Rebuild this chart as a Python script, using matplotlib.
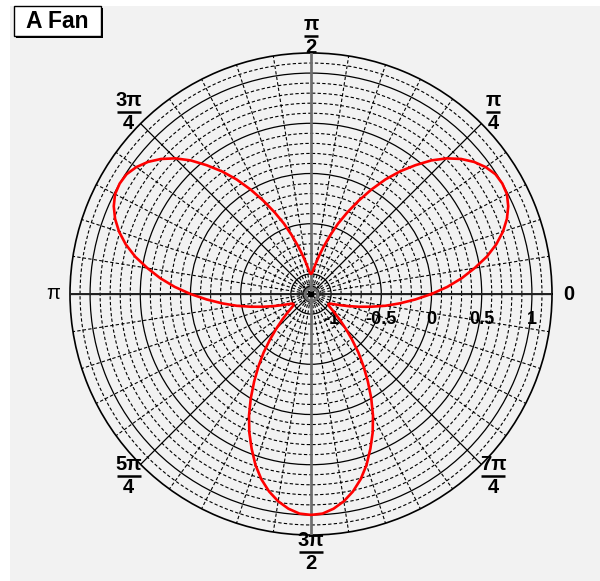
import numpy as np
import matplotlib.pyplot as plt
from matplotlib.patches import Rectangle
from matplotlib.transforms import offset_copy

plt.rcParams['font.family'] = ['Liberation Sans', 'DejaVu Sans']

# curve samples: angle (degrees) and radius
theta_deg = list(range(0, 361, 3))
radius = [
    0.0, 0.16, 0.31, 0.45, 0.59, 0.71, 0.81, 0.89, 0.95, 0.99,
    1.0, 0.99, 0.95, 0.89, 0.81, 0.71, 0.59, 0.45, 0.31, 0.16,
    0.0, -0.16, -0.31, -0.45, -0.59, -0.71, -0.81, -0.89, -0.95, -0.99,
    -1.0, -0.99, -0.95, -0.89, -0.81, -0.71, -0.59, -0.45, -0.31, -0.16,
    0.0, 0.16, 0.31, 0.45, 0.59, 0.71, 0.81, 0.89, 0.95, 0.99,
    1.0, 0.99, 0.95, 0.89, 0.81, 0.71, 0.59, 0.45, 0.31, 0.16,
    0.0, -0.16, -0.31, -0.45, -0.59, -0.71, -0.81, -0.89, -0.95, -0.99,
    -1.0, -0.99, -0.95, -0.89, -0.81, -0.71, -0.59, -0.45, -0.31, -0.16,
    0.0, 0.16, 0.31, 0.45, 0.59, 0.71, 0.81, 0.89, 0.95, 0.99,
    1.0, 0.99, 0.95, 0.89, 0.81, 0.71, 0.59, 0.45, 0.31, 0.16,
    0.0, -0.16, -0.31, -0.45, -0.59, -0.71, -0.81, -0.89, -0.95, -0.99,
    -1.0, -0.99, -0.95, -0.89, -0.81, -0.71, -0.59, -0.45, -0.31, -0.16,
    0.0,
]

# radial axis
r_min, r_max = -1.2, 1.2
r_ticks = [-1, -0.5, 0, 0.5, 1]
r_tick_labels = ['-1', '-0.5', '0', '0.5', '1']
r_minor = [-1.1, -0.9, -0.8, -0.7, -0.6, -0.4, -0.3, -0.2, -0.1,
           0.1, 0.2, 0.3, 0.4, 0.6, 0.7, 0.8, 0.9, 1.1]

# angular axis
theta_major = [0, 45, 90, 135, 180, 225, 270, 315]
theta_minor = [a for a in range(0, 360, 9) if a % 45 != 0]
label_num = ['0', 'π', 'π', '3π', 'π', '5π', '3π', '7π']
label_den = [None, '4', '2', '4', None, '4', '2', '4']

title = 'A Fan'

W, H = 600, 581
fig = plt.figure(figsize=(6, 5.81), dpi=100)
fig.patch.set_facecolor('white')

# gray canvas
fig.patches.append(Rectangle((10 / W, 0), 1 - 10 / W, 1 - 6 / H, transform=fig.transFigure,
                             facecolor='#f2f2f2', edgecolor='none', zorder=-5))

# polar frame: centre (311, 294) px, radius 241 px
cx, cy, R = 311, 294, 241
ax = fig.add_axes([(cx - R) / W, (H - cy - R) / H, 2 * R / W, 2 * R / H], projection='polar')
ax.set_facecolor('none')
ax.set_ylim(r_min, r_max)

ax.set_xticks(np.deg2rad(theta_major))
ax.set_xticks(np.deg2rad(theta_minor), minor=True)
ax.set_yticks(r_ticks)
ax.set_yticks(r_minor, minor=True)
ax.set_xticklabels([])
ax.set_yticklabels([])
ax.tick_params(which='both', length=0)
ax.grid(which='major', color='black', lw=0.9, ls='-')
ax.grid(which='minor', color='black', lw=0.8, ls=(0, (3, 2)))
ax.spines['polar'].set_linewidth(1.2)

# main axes lines
for a in (0, 180):
    ax.plot([np.deg2rad(a)] * 2, [r_min, r_max], color='#202020', lw=1.4, zorder=3)
for a in (90, 270):
    ax.plot([np.deg2rad(a)] * 2, [r_min, r_max], color='#6e6e6e', lw=1.9, zorder=3)

# the curve
ax.plot(np.deg2rad(theta_deg), radius, color='red', lw=1.9, zorder=5)

# centre marker
ax.plot([0], [r_min], marker='o', ms=9, mfc='none', mec='#707070', mew=2, zorder=6, clip_on=False)
ax.plot([0], [r_min], marker='s', ms=3.5, color='black', zorder=7, clip_on=False)

# radial labels below the 0 axis
down = offset_copy(ax.transData, fig=fig, x=0, y=-25, units='dots')
for r, s in zip(r_ticks, r_tick_labels):
    ax.text(0, r, s, transform=down, ha='center', va='center',
            fontsize=13, fontweight='bold', clip_on=False)

# angular labels
RL = 1.37
up = offset_copy(ax.transData, fig=fig, x=0, y=2, units='dots')
low = offset_copy(ax.transData, fig=fig, x=0, y=-2, units='dots')
for a, num, den in zip(theta_major, label_num, label_den):
    th = np.deg2rad(a)
    if den is None:
        ax.text(th, RL, num, ha='center', va='center', fontsize=14.5,
                fontweight='bold' if num != 'π' else 'normal', clip_on=False)
        continue
    ax.text(th, RL, num, transform=up, ha='center', va='bottom', fontsize=14.5,
            fontweight='bold', clip_on=False)
    ax.text(th, RL, den, transform=low, ha='center', va='top', fontsize=14.5,
            fontweight='bold', clip_on=False)
    bar = 17.5 if len(num) > 1 else 9.5
    ax.plot([th], [RL], marker='_', ms=bar, mew=1.8, color='black', clip_on=False)

# title box with shadow
fig.patches.append(Rectangle((16 / W, 1 - 38 / H), 87 / W, 30 / H, transform=fig.transFigure,
                             facecolor='black', edgecolor='none', zorder=1))
fig.patches.append(Rectangle((14 / W, 1 - 36 / H), 87 / W, 30 / H, transform=fig.transFigure,
                             facecolor='white', edgecolor='black', lw=1, zorder=2))
fig.text(57.5 / W, 1 - 21.5 / H, title, ha='center', va='center', fontsize=16.5,
         fontweight='bold', zorder=3)

fig.savefig('out.png', dpi=100)
